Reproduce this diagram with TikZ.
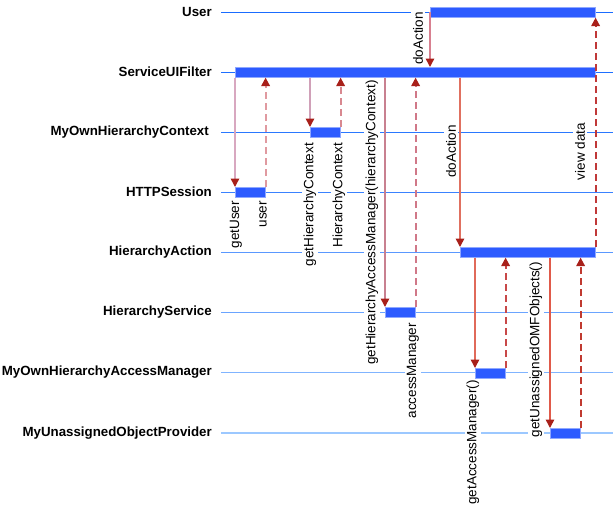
\documentclass[tikz,border=0pt]{standalone}
\usepackage{fontspec}
\setmainfont{Liberation Sans}
\usetikzlibrary{arrows.meta}
\definecolor{barblue}{HTML}{2D5BFF}
\definecolor{baredge}{HTML}{8FA8FF}
\definecolor{tipred}{HTML}{A8201A}
\definecolor{lA}{HTML}{1A6CFF}
\definecolor{lB}{HTML}{1E6FFF}
\definecolor{lC}{HTML}{2A78FF}
\definecolor{lD}{HTML}{3A82FF}
\definecolor{lE}{HTML}{5A98FF}
\definecolor{lF}{HTML}{6AA4FF}
\definecolor{lG}{HTML}{80B4FF}
\definecolor{lH}{HTML}{9CC8FF}
\definecolor{cA}{HTML}{D8A8C0}
\definecolor{cB}{HTML}{D0A0B8}
\definecolor{cC}{HTML}{C88090}
\definecolor{cD}{HTML}{D88090}
\definecolor{cE}{HTML}{E07060}
\definecolor{cF}{HTML}{E06A5A}
\definecolor{cG}{HTML}{E05A4A}
\definecolor{rA}{HTML}{E09AA0}
\definecolor{rB}{HTML}{D88890}
\definecolor{rC}{HTML}{D07888}
\definecolor{rD}{HTML}{C03838}
\definecolor{rE}{HTML}{C84848}
\definecolor{rF}{HTML}{C03A30}
\begin{document}
\begin{tikzpicture}[x=1pt,y=-1pt,
  lifelabel/.style={font=\fontsize{13.3}{15}\selectfont\bfseries, anchor=east, inner sep=0pt},
  lifeline/.style={line width=1pt},
  actbar/.style={fill=barblue, draw=baredge, line width=0.6pt, inner sep=0pt, minimum height=10pt, anchor=north west},
  msg/.style={rotate=90, anchor=east, fill=white, inner sep=2pt, font=\fontsize{13.5}{16}\selectfont},
  callarr/.style={line width=1.5pt, -{Triangle[width=8.5pt,length=8.5pt,color=tipred]}},
  retarr/.style={callarr, line width=1.8pt, dash pattern=on 7pt off 4pt}]
\useasboundingbox (0,0) rectangle (613,512);

% lifeline end points
\coordinate (l1) at (221,12);  \coordinate (r1) at (613,12);
\coordinate (l2) at (221,72);  \coordinate (r2) at (613,72);
\coordinate (l3) at (221,132); \coordinate (r3) at (613,132);
\coordinate (l4) at (221,192); \coordinate (r4) at (613,192);
\coordinate (l5) at (221,252); \coordinate (r5) at (613,252);
\coordinate (l6) at (221,312); \coordinate (r6) at (613,312);
\coordinate (l7) at (221,372); \coordinate (r7) at (613,372);
\coordinate (l8) at (221,433); \coordinate (r8) at (613,433);

\draw[lifeline, draw=lA] (l1) -- (r1);
\draw[lifeline, draw=lB] (l2) -- (r2);
\draw[lifeline, draw=lC] (l3) -- (r3);
\draw[lifeline, draw=lD] (l4) -- (r4);
\draw[lifeline, draw=lE] (l5) -- (r5);
\draw[lifeline, draw=lF] (l6) -- (r6);
\draw[lifeline, draw=lG] (l7) -- (r7);
\draw[lifeline, draw=lH, line width=1.4pt] (l8) -- (r8);

% lifeline labels
\node[lifelabel] (nU)   at (212,12)  {User};
\node[lifelabel] (nSUF) at (212,72)  {ServiceUIFilter};
\node[lifelabel] (nHC)  at (209,132) {MyOwnHierarchyContext};
\node[lifelabel] (nS)   at (212,192) {HTTPSession};
\node[lifelabel] (nHA)  at (212,252) {HierarchyAction};
\node[lifelabel] (nHS)  at (212,312) {HierarchyService};
\node[lifelabel] (nAM)  at (212,372) {MyOwnHierarchyAccessManager};
\node[lifelabel] (nUP)  at (212,433) {MyUnassignedObjectProvider};

% message labels
\node[msg] (t1)  at (418,10)  {doAction};
\node[msg] (t2)  at (236,199) {getUser};
\node[msg] (t3)  at (263,199) {user};
\node[msg] (t4)  at (310,141) {getHierarchyContext};
\node[msg] (t5)  at (339,141) {HierarchyContext};
\node[msg] (t6)  at (372,78)  {getHierarchyAccessManager(hierarchyContext)};
\node[msg] (t7)  at (413,321) {accessManager};
\node[msg] (t8)  at (451,123) {doAction};
\node[msg] (t9)  at (580,121) {view data};
\node[msg] (t10) at (473,378) {getAccessManager()};
\node[msg] (t11) at (536,260) {getUnassignedOMFObjects()};

% activation bars
\node[actbar, minimum width=165pt] (ubar) at (430,7)   {};
\node[actbar, minimum width=360pt] (suf)  at (235,67)  {};
\node[actbar, minimum width=30pt]  (hc)   at (310,127) {};
\node[actbar, minimum width=30pt]  (sess) at (235,187) {};
\node[actbar, minimum width=135pt] (ha)   at (460,247) {};
\node[actbar, minimum width=30pt]  (hs)   at (385,307) {};
\node[actbar, minimum width=30pt]  (am)   at (475,368) {};
\node[actbar, minimum width=30pt]  (up)   at (550,428) {};

% messages
\draw[callarr, draw=cD] (ubar.west) -- (ubar.west |- suf.north);
\draw[callarr, draw=cA] (suf.south west) -- (sess.north west);
\draw[retarr,  draw=rA] (sess.north east) -- (suf.south -| sess.north east);
\draw[callarr, draw=cB] (suf.south -| hc.north west) -- (hc.north west);
\draw[retarr,  draw=rB] (hc.north east) -- (suf.south -| hc.north east);
\draw[callarr, draw=cC] (suf.south -| hs.north west) -- (hs.north west);
\draw[retarr,  draw=rC] (hs.north east) -- (suf.south -| hs.north east);
\draw[callarr, draw=cE] (suf.south -| ha.north west) -- (ha.north west);
\draw[retarr,  draw=rD] (ha.north east) -- (ubar.south east);
\draw[callarr, draw=cF] (ha.south -| am.north west) -- (am.north west);
\draw[retarr,  draw=rE] (am.north east) -- (ha.south -| am.north east);
\draw[callarr, draw=cG] (ha.south -| up.north west) -- (up.north west);
\draw[retarr,  draw=rF] (up.north east) -- (ha.south -| up.north east);
\end{tikzpicture}
\end{document}
